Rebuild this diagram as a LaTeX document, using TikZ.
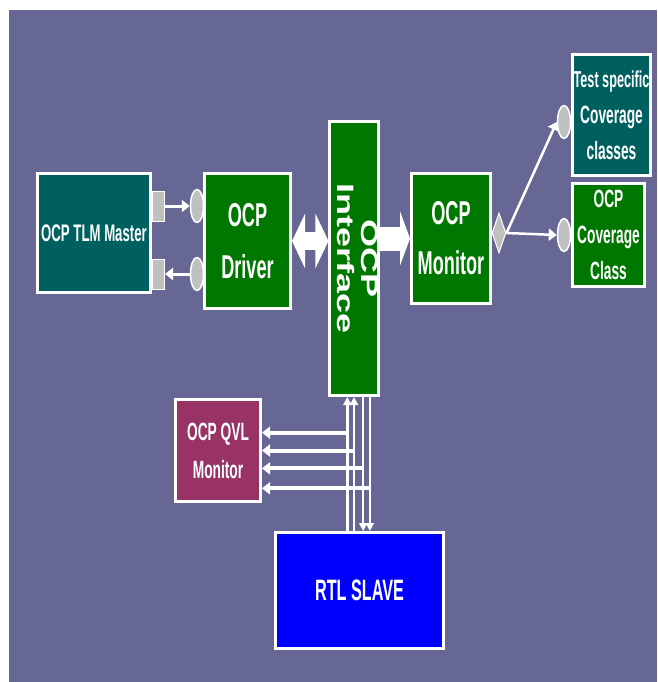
\documentclass[tikz,border=0pt]{standalone}
\usepackage{fontspec}
\usepackage{tikz}
\usetikzlibrary{arrows.meta,positioning,calc,shapes.geometric}

\newfontfamily\blockfont[FakeStretch=0.55]{Liberation Sans}
\newfontfamily\ifacefont{Liberation Sans}

\definecolor{bgpurple}{RGB}{103,103,149}
\definecolor{tealbox}{RGB}{0,96,96}
\definecolor{greenbox}{RGB}{0,119,0}
\definecolor{maroonbox}{RGB}{153,51,102}
\definecolor{bluebox}{RGB}{0,0,255}
\definecolor{plugfill}{RGB}{192,192,192}

\begin{document}
\begin{tikzpicture}[
    x=1pt, y=-1pt,
    block/.style={draw=white, line width=3pt, inner sep=0pt, align=center, text=white},
    port/.style={draw=white, line width=1pt, fill=plugfill, inner sep=0pt, minimum width=12pt, minimum height=30pt},
    plug/.style={ellipse, draw=white, line width=1.5pt, fill=plugfill, inner sep=0pt, minimum width=13pt, minimum height=33pt},
    arrow/.style={draw=white, line width=3pt, -{Triangle[length=8pt,width=12pt]}},
    busline/.style={draw=white, line width=2.5pt},
]
    \useasboundingbox (0,0) rectangle (657,682);
    \fill[bgpurple] (9,10) rectangle (657,682);

    % Blocks
    \node[block, fill=tealbox, minimum width=113pt, minimum height=119pt,
          font=\blockfont\bfseries\fontsize{24}{30}\selectfont] (master) at (94,233) {OCP TLM Master};
    \node[block, fill=greenbox, minimum width=86pt, minimum height=135pt,
          font=\blockfont\bfseries\fontsize{33}{52}\selectfont] (driver) at (247.5,241) {OCP\\Driver};
    \node[block, fill=greenbox, minimum width=45pt, minimum height=274pt] (iface) at (354,258.5)
          {\scalebox{0.66}[1]{\rotatebox{-90}{\ifacefont\bfseries\fontsize{36}{36}\selectfont
           \begin{tabular}{@{}c@{}}OCP\\Interface\end{tabular}}}};
    \node[block, fill=greenbox, minimum width=79pt, minimum height=130pt,
          font=\blockfont\bfseries\fontsize{33}{50}\selectfont] (monitor) at (451,238.5) {OCP\\Monitor};
    \node[block, fill=tealbox, minimum width=78pt, minimum height=121pt,
          font=\blockfont\bfseries\fontsize{25}{36}\selectfont] (testcov) at (611.5,115)
          {{\fontsize{23}{36}\selectfont Test specific}\\Coverage\\classes};
    \node[block, fill=greenbox, minimum width=72pt, minimum height=103pt,
          font=\blockfont\bfseries\fontsize{25}{36}\selectfont] (ocpcov) at (608.5,235) {OCP\\Coverage\\Class};
    \node[block, fill=maroonbox, minimum width=85pt, minimum height=102pt,
          font=\blockfont\bfseries\fontsize{25}{38}\selectfont] (qvl) at (218,450.5) {OCP QVL\\Monitor};
    \node[block, fill=bluebox, minimum width=168pt, minimum height=116pt,
          font=\blockfont\bfseries\fontsize{29.5}{30}\selectfont] (slave) at (359.5,590.5) {RTL SLAVE};

    % Master ports and driver plugs
    \node[port] (port1) at (158.5,206) {};
    \node[port] (port2) at (158.5,274) {};
    \node[plug] (plug1) at (197,206) {};
    \node[plug] (plug2) at (197,274) {};
    \draw[arrow] (port1.east) -- (plug1.west);
    \draw[arrow] (plug2.west) -- (port2.east);

    % Coverage side
    \node[diamond, draw=white, line width=1pt, fill=plugfill, inner sep=0pt,
          minimum width=14pt, minimum height=40pt] (fork) at (499,233) {};
    \node[plug] (cplug1) at (564,122) {};
    \node[plug] (cplug2) at (564,235) {};
    \draw[arrow, line width=2.5pt] (fork.east) -- (cplug1.west);
    \draw[arrow, line width=2.5pt] (fork.east) -- (cplug2.west);

    % Wide transaction arrows
    \draw[draw=white, line width=18pt, {Triangle[length=13pt,width=54pt]}-{Triangle[length=13pt,width=54pt]}]
        (driver.east) -- (driver.east -| iface.west);
    \draw[draw=white, line width=24pt, -{Triangle[length=10pt,width=54pt]}]
        (iface.east |- monitor.west) -- (monitor.west);

    % Signal bus between interface and slave
    \foreach \f [count=\i] in {0.37,0.5,0.68,0.81}
        \coordinate (bus\i) at ($(iface.south west)!\f!(iface.south east)$);
    \foreach \f [count=\i] in {0.33,0.5,0.67,0.86}
        \coordinate (tap\i) at ($(qvl.north east)!\f!(qvl.south east)$);
    \draw[busline, -{Triangle[length=8pt,width=8pt]}] (bus1 |- slave.north) -- (bus1);
    \draw[busline, -{Triangle[length=8pt,width=8pt]}] (bus2 |- slave.north) -- (bus2);
    \draw[busline, -{Triangle[length=8pt,width=8pt]}] (bus3) -- (bus3 |- slave.north);
    \draw[busline, -{Triangle[length=8pt,width=8pt]}] (bus4) -- (bus4 |- slave.north);
    \foreach \i in {1,...,4}
        \draw[arrow, line width=4pt] (tap\i -| bus\i) -- (tap\i);
\end{tikzpicture}
\end{document}
